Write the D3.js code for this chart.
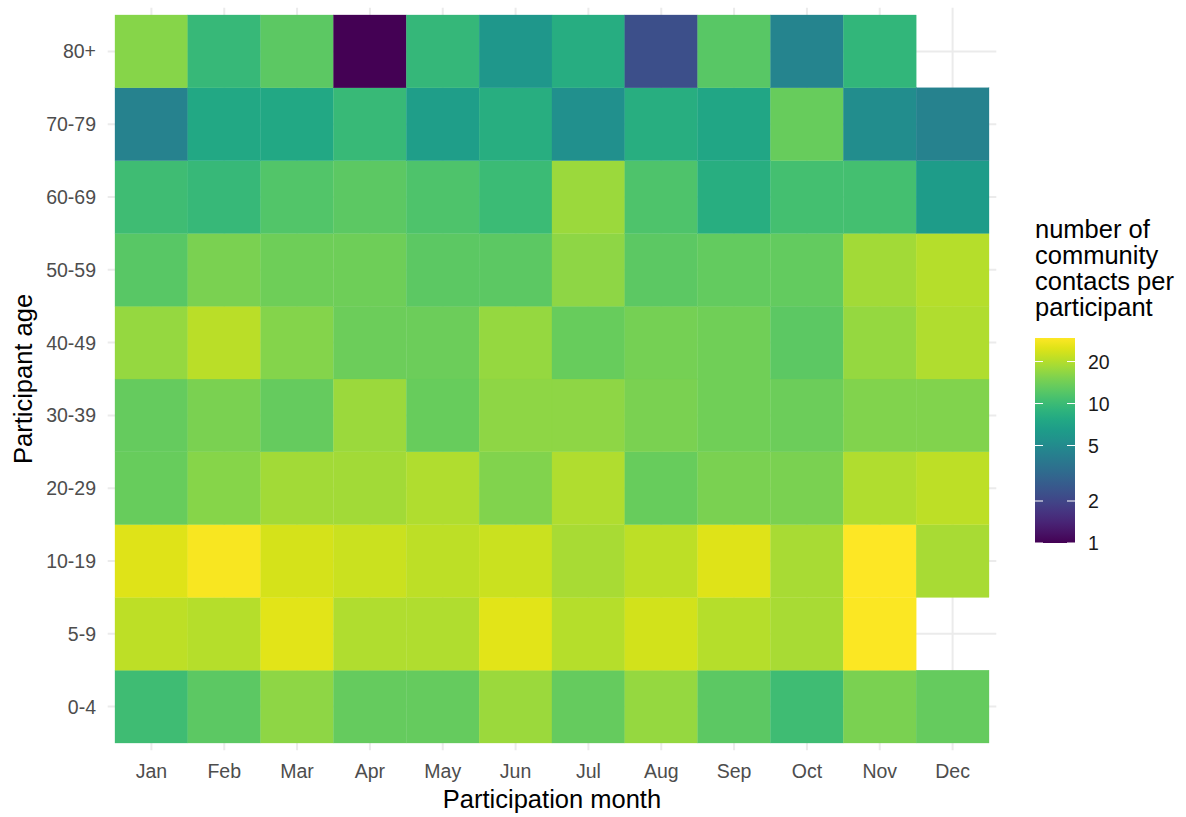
<!DOCTYPE html>
<html>
<head>
<meta charset="utf-8">
<script src="https://cdn.jsdelivr.net/npm/d3@7"></script>
<style>
  html, body { margin: 0; padding: 0; background: #ffffff; }
  svg { display: block; font-family: "Liberation Sans", Arial, Helvetica, sans-serif; }
</style>
</head>
<body>
<svg id="chart" width="1186" height="817"></svg>
<script>
// ---- data ----
const months = ["Jan","Feb","Mar","Apr","May","Jun","Jul","Aug","Sep","Oct","Nov","Dec"];
const ageGroups = ["0-4","5-9","10-19","20-29","30-39","40-49","50-59","60-69","70-79","80+"];
// mean community contacts per participant, one array per age group (Jan..Dec), null = no data
const v0_4   = [10.3, 12.6, 16.6, 13.3, 13.3, 17.8, 13.3, 17.2, 12.6, 10.3, 15.0, 13.3];
const v5_9   = [21.0, 20.3, 25.3, 19.7, 19.7, 25.3, 20.3, 23.3, 20.3, 19.0, 29.0, null];
const v10_19 = [24.9, 28.5, 23.7, 22.5, 21.0, 22.5, 19.0, 21.0, 24.9, 19.0, 29.5, 19.0];
const v20_29 = [13.5, 16.0, 18.4, 18.4, 19.7, 15.5, 19.7, 13.5, 15.0, 15.0, 19.7, 21.0];
const v30_39 = [13.3, 15.0, 13.3, 17.8, 13.5, 16.6, 16.6, 15.0, 14.2, 13.8, 15.5, 15.5];
const v40_49 = [17.2, 20.7, 15.8, 13.8, 13.8, 17.2, 13.5, 14.5, 14.2, 12.6, 17.2, 19.7];
const v50_59 = [12.2, 15.0, 14.0, 14.0, 12.6, 12.6, 16.6, 12.6, 13.1, 13.1, 18.4, 20.3];
const v60_69 = [10.3, 9.7, 11.8, 12.6, 11.4, 10.0, 17.8, 11.4, 8.4, 10.7, 10.7, 6.4];
const v70_79 = [4.5, 7.6, 7.6, 9.8, 6.6, 8.4, 5.4, 8.4, 7.4, 13.5, 5.2, 4.4];
const v80p   = [16.0, 9.7, 12.6, 1.0, 9.5, 6.0, 8.2, 2.25, 12.2, 4.6, 9.3, null];
const legendTicks = [1, 2, 5, 10, 20];
const legendTitle = ["number of", "community", "contacts per", "participant"];
const xTitle = "Participation month";
const yTitle = "Participant age";

const rows = [v0_4, v5_9, v10_19, v20_29, v30_39, v40_49, v50_59, v60_69, v70_79, v80p];
const cells = [];
rows.forEach((r, i) => r.forEach((v, j) => {
  if (v !== null) cells.push({ age: ageGroups[i], month: months[j], value: v });
}));

// ---- layout ----
const svg = d3.select("#chart");
const tileL = 115, tileR = 989, tileT = 15, tileB = 743;
const pad = 7.3;
const x = d3.scaleBand().domain(months).range([tileL, tileR]).padding(0);
const y = d3.scaleBand().domain(ageGroups.slice().reverse()).range([tileT, tileB]).padding(0);
const vmin = d3.min(cells, d => d.value), vmax = d3.max(cells, d => d.value);
const color = d3.scaleSequentialLog(d3.interpolateViridis).domain([vmin, vmax]);

// grid
const grid = svg.append("g");
grid.selectAll("line.v").data(months).join("line")
  .attr("x1", d => x(d) + x.bandwidth() / 2).attr("x2", d => x(d) + x.bandwidth() / 2)
  .attr("y1", tileT - pad).attr("y2", tileB + pad)
  .attr("stroke", "#ebebeb").attr("stroke-width", 2);
grid.selectAll("line.h").data(ageGroups).join("line")
  .attr("y1", d => y(d) + y.bandwidth() / 2).attr("y2", d => y(d) + y.bandwidth() / 2)
  .attr("x1", tileL - pad).attr("x2", tileR + pad)
  .attr("stroke", "#ebebeb").attr("stroke-width", 2);

// tiles
svg.append("g").selectAll("rect").data(cells).join("rect")
  .attr("x", d => x(d.month)).attr("y", d => y(d.age))
  .attr("width", x.bandwidth()).attr("height", y.bandwidth())
  .attr("fill", d => color(d.value))
  .attr("stroke", d => color(d.value)).attr("stroke-width", 0.3);

// axes labels
svg.append("g").selectAll("text").data(ageGroups).join("text")
  .attr("x", 96).attr("y", d => y(d) + y.bandwidth() / 2 + 7)
  .attr("text-anchor", "end").attr("font-size", 19.5).attr("fill", "#4d4d4d")
  .text(d => d);
svg.append("g").selectAll("text").data(months).join("text")
  .attr("x", d => x(d) + x.bandwidth() / 2).attr("y", 778)
  .attr("text-anchor", "middle").attr("font-size", 19.5).attr("fill", "#4d4d4d")
  .text(d => d);

// axis titles
svg.append("text").attr("x", (tileL + tileR) / 2).attr("y", 808)
  .attr("text-anchor", "middle").attr("font-size", 25.5).attr("fill", "#000")
  .text(xTitle);
svg.append("text")
  .attr("transform", `translate(31.5,${(tileT + tileB) / 2}) rotate(-90)`)
  .attr("text-anchor", "middle").attr("font-size", 25.5).attr("fill", "#000")
  .text(yTitle);

// legend
const lg = svg.append("g");
lg.selectAll("text.t").data(legendTitle).join("text")
  .attr("x", 1035).attr("y", (d, i) => 238 + i * 26)
  .attr("font-size", 25.5).attr("fill", "#000").text(d => d);

const barX = 1035, barW = 40, barT = 338, barB = 543;
const ly = d3.scaleLog().domain([vmin, vmax]).range([barB, barT]);
const defs = svg.append("defs");
const grad = defs.append("linearGradient").attr("id", "vgrad")
  .attr("x1", 0).attr("y1", 1).attr("x2", 0).attr("y2", 0);
d3.range(0, 1.0001, 0.05).forEach(t => {
  grad.append("stop").attr("offset", t).attr("stop-color", d3.interpolateViridis(t));
});
lg.append("rect").attr("x", barX).attr("y", barT).attr("width", barW).attr("height", barB - barT)
  .attr("fill", "url(#vgrad)");
lg.selectAll("line.tl").data(legendTicks).join("line")
  .attr("x1", barX).attr("x2", barX + 8)
  .attr("y1", d => ly(d)).attr("y2", d => ly(d))
  .attr("stroke", "#ffffff").attr("stroke-width", 1);
lg.selectAll("line.tr").data(legendTicks).join("line")
  .attr("x1", barX + barW - 8).attr("x2", barX + barW)
  .attr("y1", d => ly(d)).attr("y2", d => ly(d))
  .attr("stroke", "#ffffff").attr("stroke-width", 1);
lg.selectAll("text.l").data(legendTicks).join("text")
  .attr("x", 1088).attr("y", d => ly(d) + 7)
  .attr("font-size", 19.5).attr("fill", "#1a1a1a").text(d => d);
</script>
</body>
</html>
